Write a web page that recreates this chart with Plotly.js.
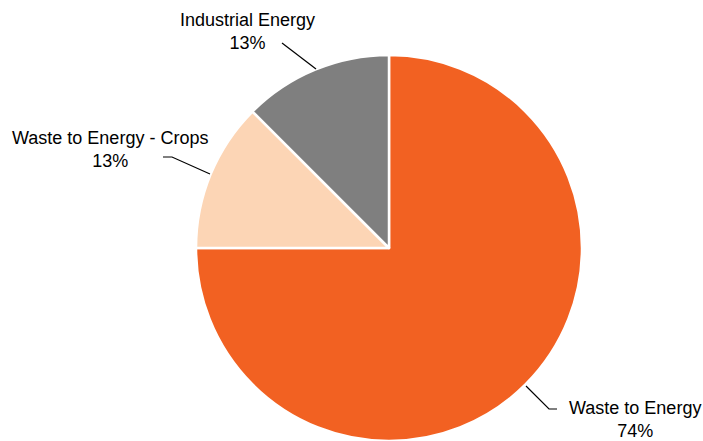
<!DOCTYPE html>
<html>
<head>
<meta charset="utf-8">
<script src="https://cdn.plot.ly/plotly-3.0.1.min.js"></script>
<style>html,body{margin:0;padding:0;background:#fff;}#chart{width:703px;height:441px;}</style>
</head>
<body>
<div id="chart"></div>
<script>
const categories = ["Waste to Energy", "Waste to Energy - Crops", "Industrial Energy"];
const values = [75, 12.5, 12.5];
const pctLabels = ["74%", "13%", "13%"];
const colors = ["#F26122", "#FCD5B5", "#7F7F7F"];

const W = 703, H = 441;
const px = x => x / W;
const py = y => 1 - y / H;

// label placement (pixels) and leader line paths (pixels)
const labelPos = [[635, 419], [110, 149], [247, 31]];
const leaders = [
  [[526, 386], [549, 409], [557, 409]],
  [[163, 157], [172, 157], [210, 174]],
  [[282, 43], [316, 69]]
];

const annotations = categories.map((c, i) => ({
  text: c + "<br>" + pctLabels[i],
  x: px(labelPos[i][0]), y: py(labelPos[i][1]),
  xref: "paper", yref: "paper",
  xanchor: "center", yanchor: "middle",
  showarrow: false,
  font: {family: "Liberation Sans, Arial, sans-serif", size: 18, color: "#000"}
}));

const shapes = leaders.map(pts => ({
  type: "path", xref: "paper", yref: "paper",
  path: pts.map((p, j) => (j ? "L" : "M") + px(p[0]) + "," + py(p[1])).join(" "),
  line: {color: "#000", width: 1.2}
}));

const trace = {
  type: "pie",
  labels: categories,
  values: values,
  sort: false,
  direction: "clockwise",
  rotation: 0,
  marker: {colors: colors, line: {color: "#fff", width: 2.5}},
  textinfo: "none",
  hoverinfo: "label+percent",
  showlegend: false,
  domain: {x: [(389 - 193) / W, (389 + 193) / W], y: [0, 386 / H]}
};

Plotly.newPlot("chart", [trace], {
  width: W, height: H,
  margin: {l: 0, r: 0, t: 0, b: 0},
  paper_bgcolor: "#fff",
  showlegend: false,
  annotations: annotations,
  shapes: shapes
}, {displayModeBar: false, staticPlot: true});
</script>
</body>
</html>
